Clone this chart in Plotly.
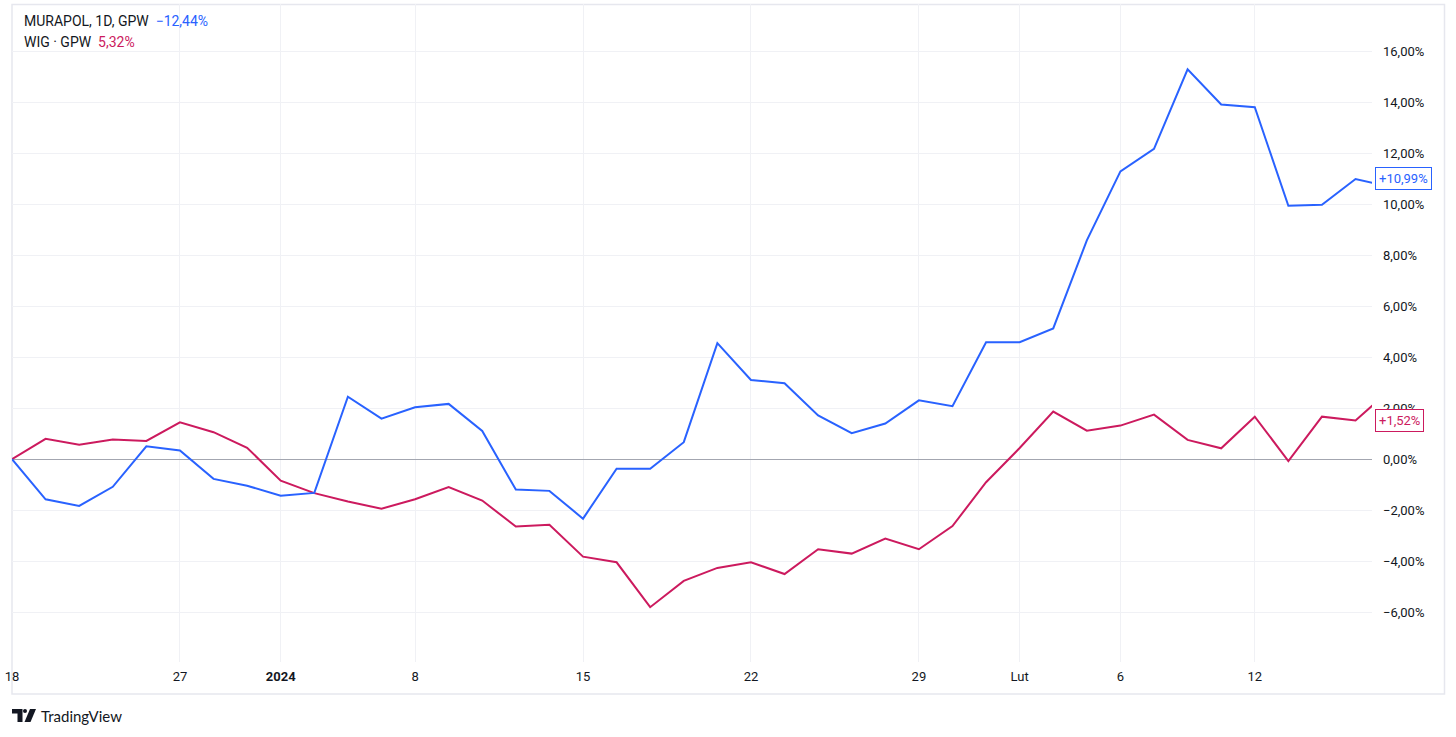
import plotly.graph_objects as go

dates = ["2023-12-18", "2023-12-19", "2023-12-20", "2023-12-21", "2023-12-22",
         "2023-12-27", "2023-12-28", "2023-12-29",
         "2024-01-02", "2024-01-03", "2024-01-04", "2024-01-05",
         "2024-01-08", "2024-01-09", "2024-01-10", "2024-01-11", "2024-01-12",
         "2024-01-15", "2024-01-16", "2024-01-17", "2024-01-18", "2024-01-19",
         "2024-01-22", "2024-01-23", "2024-01-24", "2024-01-25", "2024-01-26",
         "2024-01-29", "2024-01-30", "2024-01-31", "2024-02-01", "2024-02-02",
         "2024-02-05", "2024-02-06", "2024-02-07", "2024-02-08", "2024-02-09",
         "2024-02-12", "2024-02-13", "2024-02-14", "2024-02-15", "2024-02-16"]

murapol = [0.00, -1.57, -1.83, -1.08, 0.51, 0.34, -0.77, -1.04, -1.43, -1.32,
           2.45, 1.59, 2.04, 2.17, 1.11, -1.19, -1.24, -2.33, -0.37, -0.37,
           0.67, 4.55, 3.11, 2.98, 1.72, 1.02, 1.40, 2.31, 2.08, 4.59,
           4.59, 5.13, 8.58, 11.29, 12.17, 15.29, 13.91, 13.80, 9.94, 9.98,
           10.99, 10.69]

wig = [0.00, 0.80, 0.57, 0.77, 0.72, 1.45, 1.06, 0.45, -0.84, -1.33,
       -1.66, -1.94, -1.57, -1.09, -1.62, -2.64, -2.57, -3.82, -4.04, -5.80,
       -4.77, -4.26, -4.04, -4.50, -3.53, -3.70, -3.11, -3.53, -2.62, -0.90,
       0.44, 1.87, 1.12, 1.32, 1.75, 0.76, 0.43, 1.67, -0.07, 1.67,
       1.52, 2.69]

tick_dates = ["2023-12-18", "2023-12-27", "2024-01-02", "2024-01-08", "2024-01-15",
              "2024-01-22", "2024-01-29", "2024-02-01", "2024-02-06", "2024-02-12"]
tick_text = ["18", "27", "<b>2024</b>", "8", "15", "22", "29", "Lut", "6", "12"]

y_ticks = [-6, -4, -2, 0, 2, 4, 6, 8, 10, 12, 14, 16]
y_tick_text = [("−" if v < 0 else "") + f"{abs(v):.2f}".replace(".", ",") + "%" for v in y_ticks]

BLUE = "#2962ff"
RED = "#cc1a5e"
TEXT = "#131722"
FONT = "Roboto, Liberation Sans, sans-serif"

W, H = 1456, 737
L, R, T, B = 12, 1372, 4, 662


def px(x):
    return (x - L) / (R - L)


def py(y):
    return (B - y) / (B - T)


fig = go.Figure()
fig.add_trace(go.Scatter(x=dates, y=wig, mode="lines", line=dict(color=RED, width=2),
                         hoverinfo="skip", showlegend=False))
fig.add_trace(go.Scatter(x=dates, y=murapol, mode="lines", line=dict(color=BLUE, width=2),
                         hoverinfo="skip", showlegend=False))

fig.update_layout(
    width=W, height=H,
    margin=dict(l=L, r=W - R, t=T, b=H - B),
    paper_bgcolor="white", plot_bgcolor="white",
    separators=", ",
    font=dict(family=FONT, size=13, color=TEXT),
    showlegend=False,
)
fig.update_xaxes(
    type="category", range=[0, 40.49],
    tickvals=tick_dates, ticktext=tick_text,
    showgrid=True, gridcolor="#f0f1f5", gridwidth=1,
    ticks="", ticklabelstandoff=5, showline=False, zeroline=False,
    tickfont=dict(size=13, color=TEXT),
)
fig.update_yaxes(
    side="right", range=[-7.95, 17.85],
    tickvals=y_ticks, ticktext=y_tick_text,
    showgrid=True, gridcolor="#f0f1f5", gridwidth=1,
    zeroline=True, zerolinecolor="#a3a6b0", zerolinewidth=1,
    ticks="", ticklabelstandoff=10, showline=False,
    tickfont=dict(size=13, color=TEXT),
)

shapes = []
# outer frame
shapes.append(dict(type="rect", xref="paper", yref="paper",
                   x0=px(12), x1=px(1444.5), y0=py(694), y1=py(4.5),
                   line=dict(color="#e6e7ee", width=1.5), fillcolor="rgba(0,0,0,0)", layer="below"))


# TradingView logo
def path(points):
    return "M " + " L ".join(f"{px(a)},{py(b)}" for a, b in points) + " Z"


shapes.append(dict(type="path", xref="paper", yref="paper",
                   path=path([(12, 709), (22.5, 709), (22.5, 722), (17.5, 722), (17.5, 713.5), (12, 713.5)]),
                   fillcolor=TEXT, line=dict(width=0)))
shapes.append(dict(type="circle", xref="paper", yref="paper",
                   x0=px(23), x1=px(27), y0=py(713), y1=py(709),
                   fillcolor=TEXT, line=dict(width=0)))
shapes.append(dict(type="path", xref="paper", yref="paper",
                   path=path([(30, 709), (36, 709), (30.5, 722), (24.5, 722)]),
                   fillcolor=TEXT, line=dict(width=0)))
fig.update_layout(shapes=shapes)

ann = []
ann.append(dict(xref="paper", yref="paper", x=px(22), y=py(21), xanchor="left", yanchor="middle",
                showarrow=False, font=dict(size=14, color=TEXT, family=FONT),
                text=f"MURAPOL, 1D, GPW  <span style='color:{BLUE}'>−12,44%</span>"))
ann.append(dict(xref="paper", yref="paper", x=px(22), y=py(42.5), xanchor="left", yanchor="middle",
                showarrow=False, font=dict(size=14, color=TEXT, family=FONT),
                text=f"WIG · GPW  <span style='color:{RED}'>5,32%</span>"))
# last value labels
ann.append(dict(xref="paper", yref="y", x=px(1374.5), y=murapol[-2], xanchor="left", yanchor="middle",
                showarrow=False, font=dict(size=13, color=BLUE, family=FONT),
                text="+10,99%", bgcolor="white", bordercolor=BLUE, borderwidth=1, borderpad=3))
ann.append(dict(xref="paper", yref="y", x=px(1374.5), y=wig[-2], xanchor="left", yanchor="middle",
                showarrow=False, font=dict(size=13, color=RED, family=FONT),
                text="+1,52%", bgcolor="white", bordercolor=RED, borderwidth=1, borderpad=3))
# footer
ann.append(dict(xref="paper", yref="paper", x=px(39), y=py(716), xanchor="left", yanchor="middle",
                showarrow=False, font=dict(size=15, color=TEXT, family="Lato, Roboto, sans-serif"),
                text="TradingView"))
fig.update_layout(annotations=ann)

fig.write_html("out.html")
